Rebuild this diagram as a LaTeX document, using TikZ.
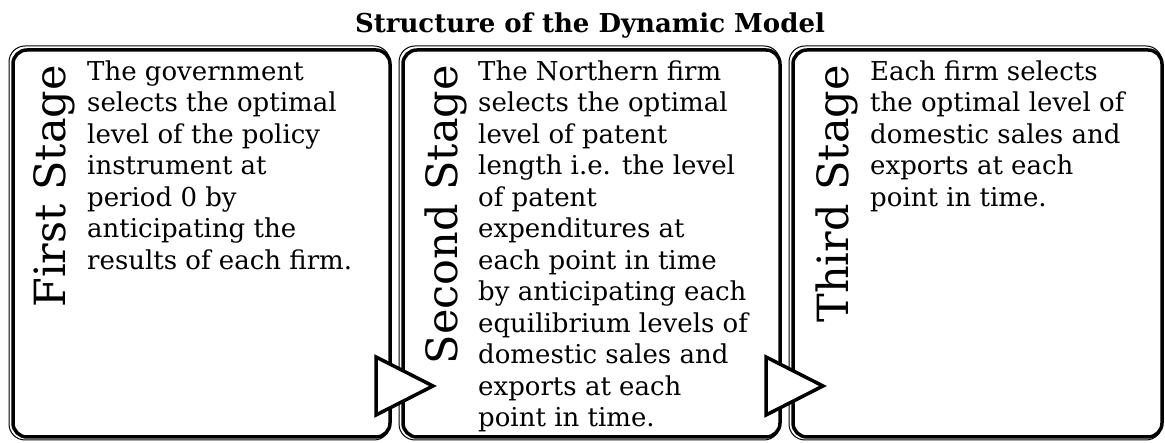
\documentclass[tikz,border=0pt]{standalone}
\usepackage{fontspec}
\setmainfont{DejaVu Serif}
\usetikzlibrary{calc}
\begin{document}
\begin{tikzpicture}[x=1pt,y=1pt]
\useasboundingbox (0,0) rectangle (1165,443);
\node[font=\fontsize{26}{30}\selectfont\bfseries,anchor=base] (title) at (590,410) {Structure of the Dynamic Model};

\begin{scope}[every node/.style={draw,line width=3.5pt,rounded corners=14pt,anchor=north west,minimum height=387pt,inner sep=0pt,outer sep=0pt}]
\node[minimum width=377pt] (S1) at (13,393) {};
\node[minimum width=377pt] (S2) at (403,393) {};
\node[minimum width=369pt] (S3) at (793,393) {};
\end{scope}

% thin outer frames
\foreach \s in {S1,S2,S3}
  \draw[line width=1pt,rounded corners=16pt] ($(\s.north west)+(-4,4)$) rectangle ($(\s.south east)+(0,-3)$);

% arrows between stages
\foreach \s in {S1,S2}
  \filldraw[fill=white,line width=3.5pt] ($(\s.south east)+(-14,80)$) -- ($(\s.south east)+(43,51)$) -- ($(\s.south east)+(-14,22)$) -- cycle;

\begin{scope}[every node/.style={rotate=90,anchor=base east,inner sep=0pt,font=\fontsize{43}{43}\selectfont}]
\node (L1) at ($(S1.north west)+(52,-15)$) {First Stage};
\node (L2) at ($(S2.north west)+(54,-15)$) {Second Stage};
\node (L3) at ($(S3.north west)+(55,-15)$) {Third Stage};
\end{scope}

\begin{scope}[every node/.style={anchor=north west,align=left,inner sep=0pt,font=\fontsize{26}{31.5}\selectfont}]
\node (T1) at ($(S1.north west)+(74,-10.5)$) {The government\\selects the optimal\\level of the policy\\instrument at\\period 0 by\\anticipating the\\results of each firm.};
\node (T2) at ($(S2.north west)+(75,-10.5)$) {The Northern firm\\selects the optimal\\level of patent\\length i.e. the level\\of patent\\expenditures at\\each point in time\\by anticipating each\\equilibrium levels of\\domestic sales and\\exports at each\\point in time.};
\node (T3) at ($(S3.north west)+(77,-10.5)$) {Each firm selects\\the optimal level of\\domestic sales and\\exports at each\\point in time.};
\end{scope}
\end{tikzpicture}
\end{document}
